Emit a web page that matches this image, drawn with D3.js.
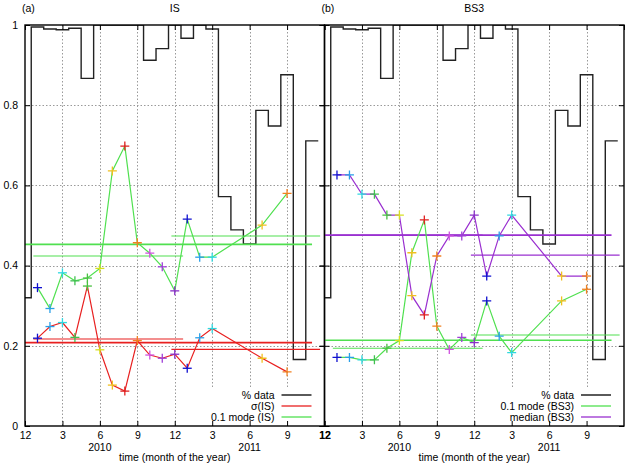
<!DOCTYPE html>
<html>
<head>
<meta charset="utf-8">
<script src="https://cdn.jsdelivr.net/npm/d3@7"></script>
<style>
  body { margin: 0; background: #fff; }
  svg { display: block; font-family: "Liberation Sans", Arial, sans-serif; }
</style>
</head>
<body>
<svg id="chart" width="627" height="466"></svg>
<script>
// ---------------- DATA ----------------
// month index: 0 = Dec 2009, 1 = Jan 2010, ..., 12 = Dec 2010, ..., 24 = Dec 2011
const months      = [1, 2, 3, 4, 5, 6, 7, 8, 9, 10, 11, 12, 13, 14, 15, 19, 21];
const sigmaIS     = [0.219, 0.248, 0.258, 0.221, 0.349, 0.190, 0.102, 0.087, 0.213, 0.177, 0.169, 0.179, 0.144, 0.220, 0.243, 0.169, 0.135];
const modeIS      = [0.345, 0.293, 0.382, 0.362, 0.369, 0.393, 0.636, 0.698, 0.457, 0.431, 0.397, 0.337, 0.516, 0.421, 0.421, 0.501, 0.580];
const modeBS3     = [0.171, 0.171, 0.165, 0.165, 0.194, 0.213, 0.432, 0.514, 0.249, 0.191, 0.221, 0.208, 0.312, 0.224, 0.183, 0.312, 0.341];
const medianBS3   = [0.626, 0.626, 0.578, 0.578, 0.526, 0.526, 0.325, 0.277, 0.424, 0.474, 0.474, 0.526, 0.374, 0.474, 0.526, 0.374, 0.374];

// fraction of data per month (bins centred on month index 0..23)
const pctMonths   = [0, 1, 2, 3, 4, 5, 6, 7, 8, 9, 10, 11, 12, 13, 14, 15, 16, 17, 18, 19, 20, 21, 22, 23];
const pctData     = [0.32, 0.995, 0.99, 0.988, 0.992, 0.867, 1, 1, 1, 1, 0.912, 0.941, 1, 0.967, 1, 0.99, 0.572, 0.489, 0.454, 0.787, 0.748, 0.876, 0.166, 0.711];

// reference levels: [from month, to month, value]  (overall, 2010, 2011)
const sigmaISLevels   = [[0, 23, 0.208], [0.67, 12.67, 0.217], [11.73, 23.65, 0.191]];
const modeISLevels    = [[0, 23, 0.453], [0.67, 12.67, 0.424], [11.73, 23.65, 0.474]];
const modeBS3Levels   = [[0, 23, 0.214], [0.67, 12.67, 0.194], [11.73, 23.65, 0.227]];
const medianBS3Levels = [[0, 23, 0.476], [0.67, 12.67, 0.476], [11.73, 23.65, 0.426]];

const xTickValues = [0, 3, 6, 9, 12, 15, 18, 21, 24];
const xTickLabels = ["12", "3", "6", "9", "12", "3", "6", "9", "12"];
const yTickValues = [0, 0.2, 0.4, 0.6, 0.8, 1];
const yTickLabels = ["0", "0.2", "0.4", "0.6", "0.8", "1"];
const yearLabels  = [[6, "2010"], [18, "2011"]];

// ---------------- STYLE ----------------
// cross colour by calendar month (Jan..Dec)
const monthColors = ["#1010d0", "#2aa0e8", "#30d8e0", "#40c050", "#48c040", "#d8e020",
                     "#f0c020", "#e02020", "#f08020", "#d050e0", "#a040d8", "#8a30c8"];
const RED = "#e82020", GREEN = "#50e050", PURPLE = "#9a30d0";

const svg = d3.select("#chart");
const y = d3.scaleLinear().domain([0, 1]).range([426, 25]);

const panels = [
  { x0: 25, x1: 324.5, tag: "(a)", title: "IS", id: "a",
    series: [
      { vals: sigmaIS, color: RED, levels: sigmaISLevels },
      { vals: modeIS, color: GREEN, levels: modeISLevels }
    ],
    legend: [["% data", "#000"], ["\u03c3(IS)", RED], ["0.1 mode (IS)", GREEN]],
    showY: true, lastLabel: true },
  { x0: 324.5, x1: 624, tag: "(b)", title: "BS3", id: "b",
    series: [
      { vals: modeBS3, color: GREEN, levels: modeBS3Levels },
      { vals: medianBS3, color: PURPLE, levels: medianBS3Levels }
    ],
    legend: [["% data", "#000"], ["0.1 mode (BS3)", GREEN], ["median (BS3)", PURPLE]],
    showY: false, lastLabel: false }
];

panels.forEach(p => {
  const x = d3.scaleLinear().domain([0, 24]).range([p.x0, p.x1]);
  const g = svg.append("g");

  // clip
  svg.append("clipPath").attr("id", "clip" + p.id)
    .append("rect").attr("x", p.x0).attr("y", y(1)).attr("width", p.x1 - p.x0).attr("height", y(0) - y(1));

  // grid
  const grid = g.append("g").attr("stroke", "#9a9a9a").attr("stroke-width", 1).attr("stroke-dasharray", "1.5,2");
  grid.selectAll("line.gx").data(xTickValues.filter(v => v > 0 && v < 24)).enter().append("line")
    .attr("x1", d => Math.round(x(d)) + 0.5).attr("x2", d => Math.round(x(d)) + 0.5)
    .attr("y1", y(1)).attr("y2", y(0));
  grid.selectAll("line.gy").data(yTickValues.filter(v => v > 0 && v < 1)).enter().append("line")
    .attr("x1", p.x0).attr("x2", p.x1)
    .attr("y1", d => Math.round(y(d)) + 0.5).attr("y2", d => Math.round(y(d)) + 0.5);

  // legend background
  g.append("rect").attr("x", p.x1 - 118).attr("y", 388).attr("width", 116).attr("height", 37).attr("fill", "#fff");

  const plot = g.append("g").attr("clip-path", `url(#clip${p.id})`);

  // % data histogram (steps)
  const stepPts = [];
  pctMonths.forEach((m, i) => {
    stepPts.push([m - 0.5, pctData[i]]);
    stepPts.push([m + 0.5, pctData[i]]);
  });
  plot.append("path")
    .attr("d", d3.line().x(d => x(d[0])).y(d => y(d[1]))(stepPts))
    .attr("fill", "none").attr("stroke", "#222").attr("stroke-width", 1.4);

  // reference levels
  p.series.forEach(s => {
    plot.selectAll(null).data(s.levels).enter().append("line")
      .attr("x1", d => x(d[0])).attr("x2", d => x(d[1]))
      .attr("y1", d => y(d[2])).attr("y2", d => y(d[2]))
      .attr("stroke", s.color).attr("stroke-width", (d, i) => i === 0 ? 1.6 : 1.1);
  });

  // series lines
  p.series.forEach(s => {
    const pts = months.map((m, i) => [m, s.vals[i]]);
    plot.append("path")
      .attr("d", d3.line().x(d => x(d[0])).y(d => y(d[1]))(pts))
      .attr("fill", "none").attr("stroke", s.color).attr("stroke-width", 1.2);
  });
  // crosses
  p.series.forEach(s => {
    const pts = months.map((m, i) => [m, s.vals[i]]);
    const cg = plot.selectAll(null).data(pts).enter().append("g")
      .attr("transform", d => `translate(${x(d[0])},${y(d[1])})`)
      .attr("stroke", d => monthColors[((d[0] - 1) % 12 + 12) % 12])
      .attr("stroke-width", 1.3);
    cg.append("line").attr("x1", -4.5).attr("x2", 4.5).attr("y1", 0).attr("y2", 0);
    cg.append("line").attr("x1", 0).attr("x2", 0).attr("y1", -4.5).attr("y2", 4.5);
  });

  // axes
  const labelsX = p.lastLabel ? xTickLabels : xTickLabels.slice(0, -1);
  const axB = d3.axisBottom(x).tickValues(xTickValues.slice(0, labelsX.length))
    .tickFormat((d, i) => labelsX[i]).tickSizeInner(-5).tickSizeOuter(0).tickPadding(6);
  const gb = svg.append("g").attr("transform", `translate(0,${y(0)})`).call(axB);
  gb.select(".domain").remove();
  gb.selectAll("text").attr("font-size", "10.5px").attr("fill", "#000")
    .attr("font-family", "Liberation Sans, Arial, sans-serif")
    .attr("font-weight", d => (!p.showY && d === 0) ? "bold" : "normal");
  gb.selectAll("line").attr("stroke", "#000");

  const axT = d3.axisTop(x).tickValues(xTickValues).tickFormat("").tickSizeInner(-5).tickSizeOuter(0);
  const gt = svg.append("g").attr("transform", `translate(0,${y(1)})`).call(axT);
  gt.select(".domain").remove();

  const axL = d3.axisLeft(y).tickValues(yTickValues)
    .tickFormat((d, i) => p.showY ? yTickLabels[i] : "").tickSizeInner(p.showY ? -5 : 5).tickSizeOuter(0).tickPadding(7);
  const gl = svg.append("g").attr("transform", `translate(${p.x0},0)`).call(axL);
  gl.select(".domain").remove();
  gl.selectAll("text").attr("font-size", "10.5px").attr("fill", "#000")
    .attr("font-family", "Liberation Sans, Arial, sans-serif");
  if (!p.showY) {
    const gl2 = svg.append("g").attr("transform", `translate(${p.x0},0)`)
      .call(d3.axisRight(y).tickValues(yTickValues).tickFormat("").tickSizeInner(5).tickSizeOuter(0));
    gl2.select(".domain").remove();
  }
  const axR = d3.axisRight(y).tickValues(yTickValues).tickFormat("").tickSizeInner(-5).tickSizeOuter(0);
  const gr = svg.append("g").attr("transform", `translate(${p.x1},0)`).call(axR);
  gr.select(".domain").remove();

  // border
  svg.append("rect").attr("x", p.x0).attr("y", y(1)).attr("width", p.x1 - p.x0).attr("height", y(0) - y(1))
    .attr("fill", "none").attr("stroke", "#000").attr("stroke-width", 1.4);

  // year labels
  svg.selectAll(null).data(yearLabels).enter().append("text")
    .attr("x", d => x(d[0])).attr("y", 450.5).attr("text-anchor", "middle")
    .attr("font-size", "10.5px").text(d => d[1]);
  svg.append("text").attr("x", x(12)).attr("y", 460.5).attr("text-anchor", "middle")
    .attr("font-size", "10.5px").text("time (month of the year)");

  // titles
  svg.append("text").attr("x", x(12)).attr("y", 12).attr("text-anchor", "middle")
    .attr("font-size", "10.5px").text(p.title);
  svg.append("text").attr("x", p.x0 - 3).attr("y", 12).attr("text-anchor", "start")
    .attr("font-size", "10.5px").text(p.tag);

  // legend
  const lg = svg.append("g");
  p.legend.forEach((e, i) => {
    const cy = 395 + i * 11;
    lg.append("text").attr("x", p.x1 - 50).attr("y", cy + 3.8).attr("text-anchor", "end")
      .attr("font-size", "10.5px").text(e[0]);
    lg.append("line").attr("x1", p.x1 - 43).attr("x2", p.x1 - 13).attr("y1", cy).attr("y2", cy)
      .attr("stroke", e[1]).attr("stroke-width", 1.3);
  });
});
</script>
</body>
</html>
